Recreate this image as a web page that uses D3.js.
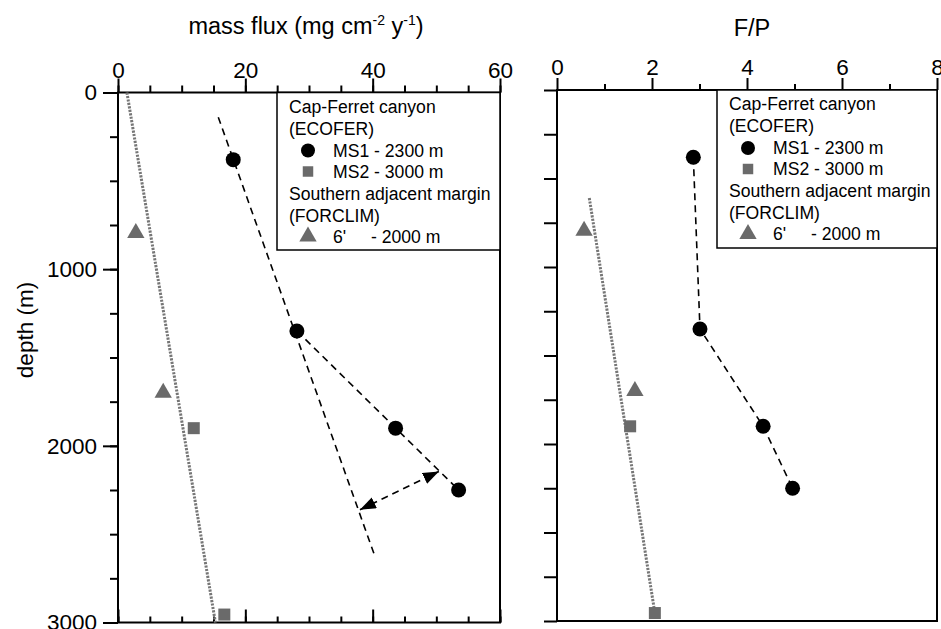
<!doctype html>
<meta charset="utf-8">
<title>Mass flux and F/P vs depth</title>

<style>
body {
  margin: 0px;
  background: #fff;
}
svg {
  font-family: "Liberation Sans", Arial, sans-serif;
}
.axis path.domain {
  display: none;
}
.axis line {
  stroke: #000;
  stroke-width: 2;
}
.axis text {
  font-family: "Liberation Sans", Arial, sans-serif;
  font-size: 22.5px;
  fill: #000;
}
.frame {
  fill: none;
  stroke: #000;
  stroke-width: 2;
}
.legend rect {
  fill: #fff;
  stroke: #000;
  stroke-width: 1.5;
}
.legend text {
  font-size: 17.6px;
  fill: #000;
}
.trend-gray {
  fill: none;
  stroke: #767676;
  stroke-width: 3;
  stroke-dasharray: 2.2,1.3;
}
.trend-black {
  fill: none;
  stroke: #000;
  stroke-width: 1.6;
  stroke-dasharray: 7,5;
}
</style>

<script src="https://d3js.org/d3.v7.min.js"></script>

<body>
<script>
// values
var depthMS1 = [380, 1350, 1900, 2250];
var fluxMS1 = [18.1, 28.1, 43.6, 53.5];
var fpMS1 = [2.87, 3.01, 4.34, 4.96];

var depthMS2 = [1900, 2955];
var fluxMS2 = [11.9, 16.7];
var fpMS2 = [1.54, 2.06];

var depth6 = [795, 1700];
var flux6 = [2.8, 7.1];
var fp6 = [0.57, 1.64];

// trend lines [value, depth]
var fluxGrayTrend = [[1.4, 0], [15.3, 3000]];
var fluxTrendA = [[15.75, 140], [40.3, 2620]];
var fluxTrendB = [[28.1, 1350], [53.5, 2250]];
var fluxArrow = [[38.0, 2362], [50.4, 2145]];
var fpGrayTrend = [[0.68, 610], [2.06, 2955]];

var fluxTicks = [0, 20, 40, 60];
var fpTicks = [0, 2, 4, 6, 8];
var depthTicks = [0, 1000, 2000, 3000];

var width = 941, height = 629;
var gray = "#6a6a6a";

var svg = d3.select("body").append("svg")
    .attr("width", width)
    .attr("height", height);

var defs = svg.append("defs");
defs.append("marker")
    .attr("id", "head")
    .attr("markerUnits", "userSpaceOnUse")
    .attr("markerWidth", 17)
    .attr("markerHeight", 13)
    .attr("refX", 16)
    .attr("refY", 6)
    .attr("orient", "auto-start-reverse")
  .append("path")
    .attr("d", "M0,0 L16,6 L0,12 Z")
    .attr("fill", "#000");

var xFlux = d3.scaleLinear().domain([0, 60]).range([118, 500]);
var yL = d3.scaleLinear().domain([0, 3000]).range([92.5, 622.5]);
var xFP = d3.scaleLinear().domain([0, 8]).range([557, 937]);
var yR = d3.scaleLinear().domain([0, 3000]).range([90, 621]);

// ---------- left panel axes ----------
svg.append("g").attr("class", "axis")
    .attr("transform", "translate(0," + yL(0) + ")")
    .call(d3.axisTop(xFlux).tickValues(d3.range(0, 61, 5)).tickSize(7).tickFormat(""));
svg.append("g").attr("class", "axis")
    .attr("transform", "translate(0," + yL(0) + ")")
    .call(d3.axisTop(xFlux).tickValues(fluxTicks).tickSize(14).tickPadding(1).tickFormat(d3.format("d")));
svg.append("g").attr("class", "axis")
    .attr("transform", "translate(0," + yL(3000) + ")")
    .call(d3.axisTop(xFlux).tickValues(d3.range(0, 61, 5)).tickSize(6).tickFormat(""));
svg.append("g").attr("class", "axis")
    .attr("transform", "translate(0," + yL(3000) + ")")
    .call(d3.axisTop(xFlux).tickValues(fluxTicks).tickSize(13).tickFormat(""));
svg.append("g").attr("class", "axis")
    .attr("transform", "translate(" + xFlux(0) + ",0)")
    .call(d3.axisLeft(yL).tickValues(d3.range(0, 3001, 250)).tickSize(8).tickFormat(""));
svg.append("g").attr("class", "axis")
    .attr("transform", "translate(" + xFlux(0) + ",0)")
    .call(d3.axisLeft(yL).tickValues(depthTicks).tickSize(15).tickPadding(6).tickFormat(d3.format("d")));

svg.append("rect").attr("class", "frame")
    .attr("x", xFlux(0)).attr("y", yL(0))
    .attr("width", xFlux(60) - xFlux(0))
    .attr("height", yL(3000) - yL(0));

// ---------- right panel axes ----------
svg.append("g").attr("class", "axis")
    .attr("transform", "translate(0," + yR(0) + ")")
    .call(d3.axisTop(xFP).tickValues([1, 3, 5, 7]).tickSize(6).tickFormat(""));
svg.append("g").attr("class", "axis")
    .attr("transform", "translate(0," + yR(0) + ")")
    .call(d3.axisTop(xFP).tickValues(fpTicks).tickSize(12).tickPadding(3).tickFormat(d3.format("d")));
svg.append("g").attr("class", "axis")
    .attr("transform", "translate(" + xFP(0) + ",0)")
    .call(d3.axisLeft(yR).tickValues(d3.range(0, 3001, 250)).tickSize(13).tickFormat(""));

svg.append("rect").attr("class", "frame")
    .attr("x", xFP(0)).attr("y", yR(0))
    .attr("width", xFP(8) - xFP(0))
    .attr("height", yR(3000) - yR(0));

// ---------- titles ----------
var t1 = svg.append("text")
    .attr("x", 306).attr("y", 34)
    .attr("text-anchor", "middle")
    .style("font-size", "23.5px");
t1.append("tspan").text("mass flux (mg cm");
t1.append("tspan").attr("dy", -9).style("font-size", "14px").text("-2");
t1.append("tspan").attr("dy", 9).text(" y");
t1.append("tspan").attr("dy", -9).style("font-size", "14px").text("-1");
t1.append("tspan").attr("dy", 9).text(")");

svg.append("text")
    .attr("x", 752).attr("y", 36)
    .attr("text-anchor", "middle")
    .style("font-size", "23.5px")
    .text("F/P");

svg.append("text")
    .attr("transform", "translate(33,330) rotate(-90)")
    .attr("text-anchor", "middle")
    .style("font-size", "22.5px")
    .text("depth (m)");

// ---------- data, left panel ----------
var lineL = d3.line().x(function(d) { return xFlux(d[0]); }).y(function(d) { return yL(d[1]); });
var lineR = d3.line().x(function(d) { return xFP(d[0]); }).y(function(d) { return yR(d[1]); });

svg.append("path").attr("class", "trend-gray").attr("d", lineL(fluxGrayTrend));
svg.append("path").attr("class", "trend-black").attr("d", lineL(fluxTrendA));
svg.append("path").attr("class", "trend-black").attr("d", lineL(fluxTrendB));
svg.append("path").attr("class", "trend-black")
    .attr("d", lineL(fluxArrow))
    .attr("marker-start", "url(#head)")
    .attr("marker-end", "url(#head)");

var tri = d3.symbol(d3.symbolTriangle, 130);
var sq = d3.symbol(d3.symbolSquare, 144);

function drawPoints(xs, ys, depths, vals, shape, color) {
  svg.selectAll(null)
      .data(d3.zip(vals, depths))
    .enter().append("path")
      .attr("transform", function(d) { return "translate(" + xs(d[0]) + "," + ys(d[1]) + ")"; })
      .attr("d", shape)
      .attr("fill", color);
}

function drawCircles(xs, ys, depths, vals) {
  svg.selectAll(null)
      .data(d3.zip(vals, depths))
    .enter().append("circle")
      .attr("cx", function(d) { return xs(d[0]); })
      .attr("cy", function(d) { return ys(d[1]); })
      .attr("r", 7.5)
      .attr("fill", "#000");
}

drawPoints(xFlux, yL, depth6, flux6, tri, gray);
drawPoints(xFlux, yL, depthMS2, fluxMS2, sq, gray);
drawCircles(xFlux, yL, depthMS1, fluxMS1);

// ---------- data, right panel ----------
svg.append("path").attr("class", "trend-gray").attr("d", lineR(fpGrayTrend));
svg.append("path").attr("class", "trend-black").attr("d", lineR(d3.zip(fpMS1, depthMS1)));

drawPoints(xFP, yR, depth6, fp6, tri, gray);
drawPoints(xFP, yR, depthMS2, fpMS2, sq, gray);
drawCircles(xFP, yR, depthMS1, fpMS1);

// ---------- legends ----------
function legend(x0, y0, x1, y1) {
  var g = svg.append("g").attr("class", "legend");
  g.append("rect").attr("x", x0).attr("y", y0).attr("width", x1 - x0).attr("height", y1 - y0);
  var rows = [14, 36, 58, 79, 101, 123, 144];
  var tx = x0 + 12, sx = x0 + 31, lx = x0 + 56;
  g.append("text").attr("x", tx).attr("y", y0 + rows[0]).attr("dy", "0.35em").text("Cap-Ferret canyon");
  g.append("text").attr("x", tx).attr("y", y0 + rows[1]).attr("dy", "0.35em").text("(ECOFER)");
  g.append("circle").attr("cx", sx).attr("cy", y0 + rows[2]).attr("r", 7).attr("fill", "#000");
  g.append("text").attr("x", lx).attr("y", y0 + rows[2]).attr("dy", "0.35em").text("MS1 - 2300 m");
  g.append("path").attr("transform", "translate(" + sx + "," + (y0 + rows[3]) + ")").attr("d", d3.symbol(d3.symbolSquare, 110)).attr("fill", gray);
  g.append("text").attr("x", lx).attr("y", y0 + rows[3]).attr("dy", "0.35em").text("MS2 - 3000 m");
  g.append("text").attr("x", tx).attr("y", y0 + rows[4]).attr("dy", "0.35em").text("Southern adjacent margin");
  g.append("text").attr("x", tx).attr("y", y0 + rows[5]).attr("dy", "0.35em").text("(FORCLIM)");
  g.append("path").attr("transform", "translate(" + sx + "," + (y0 + rows[6]) + ")").attr("d", tri).attr("fill", gray);
  g.append("text").attr("x", lx).attr("y", y0 + rows[6]).attr("dy", "0.35em").text("6'");
  g.append("text").attr("x", lx + 38).attr("y", y0 + rows[6]).attr("dy", "0.35em").text("- 2000 m");
}

legend(277, yL(0), xFlux(60), 250);
legend(717, yR(0), xFP(8), 248);
</script>
